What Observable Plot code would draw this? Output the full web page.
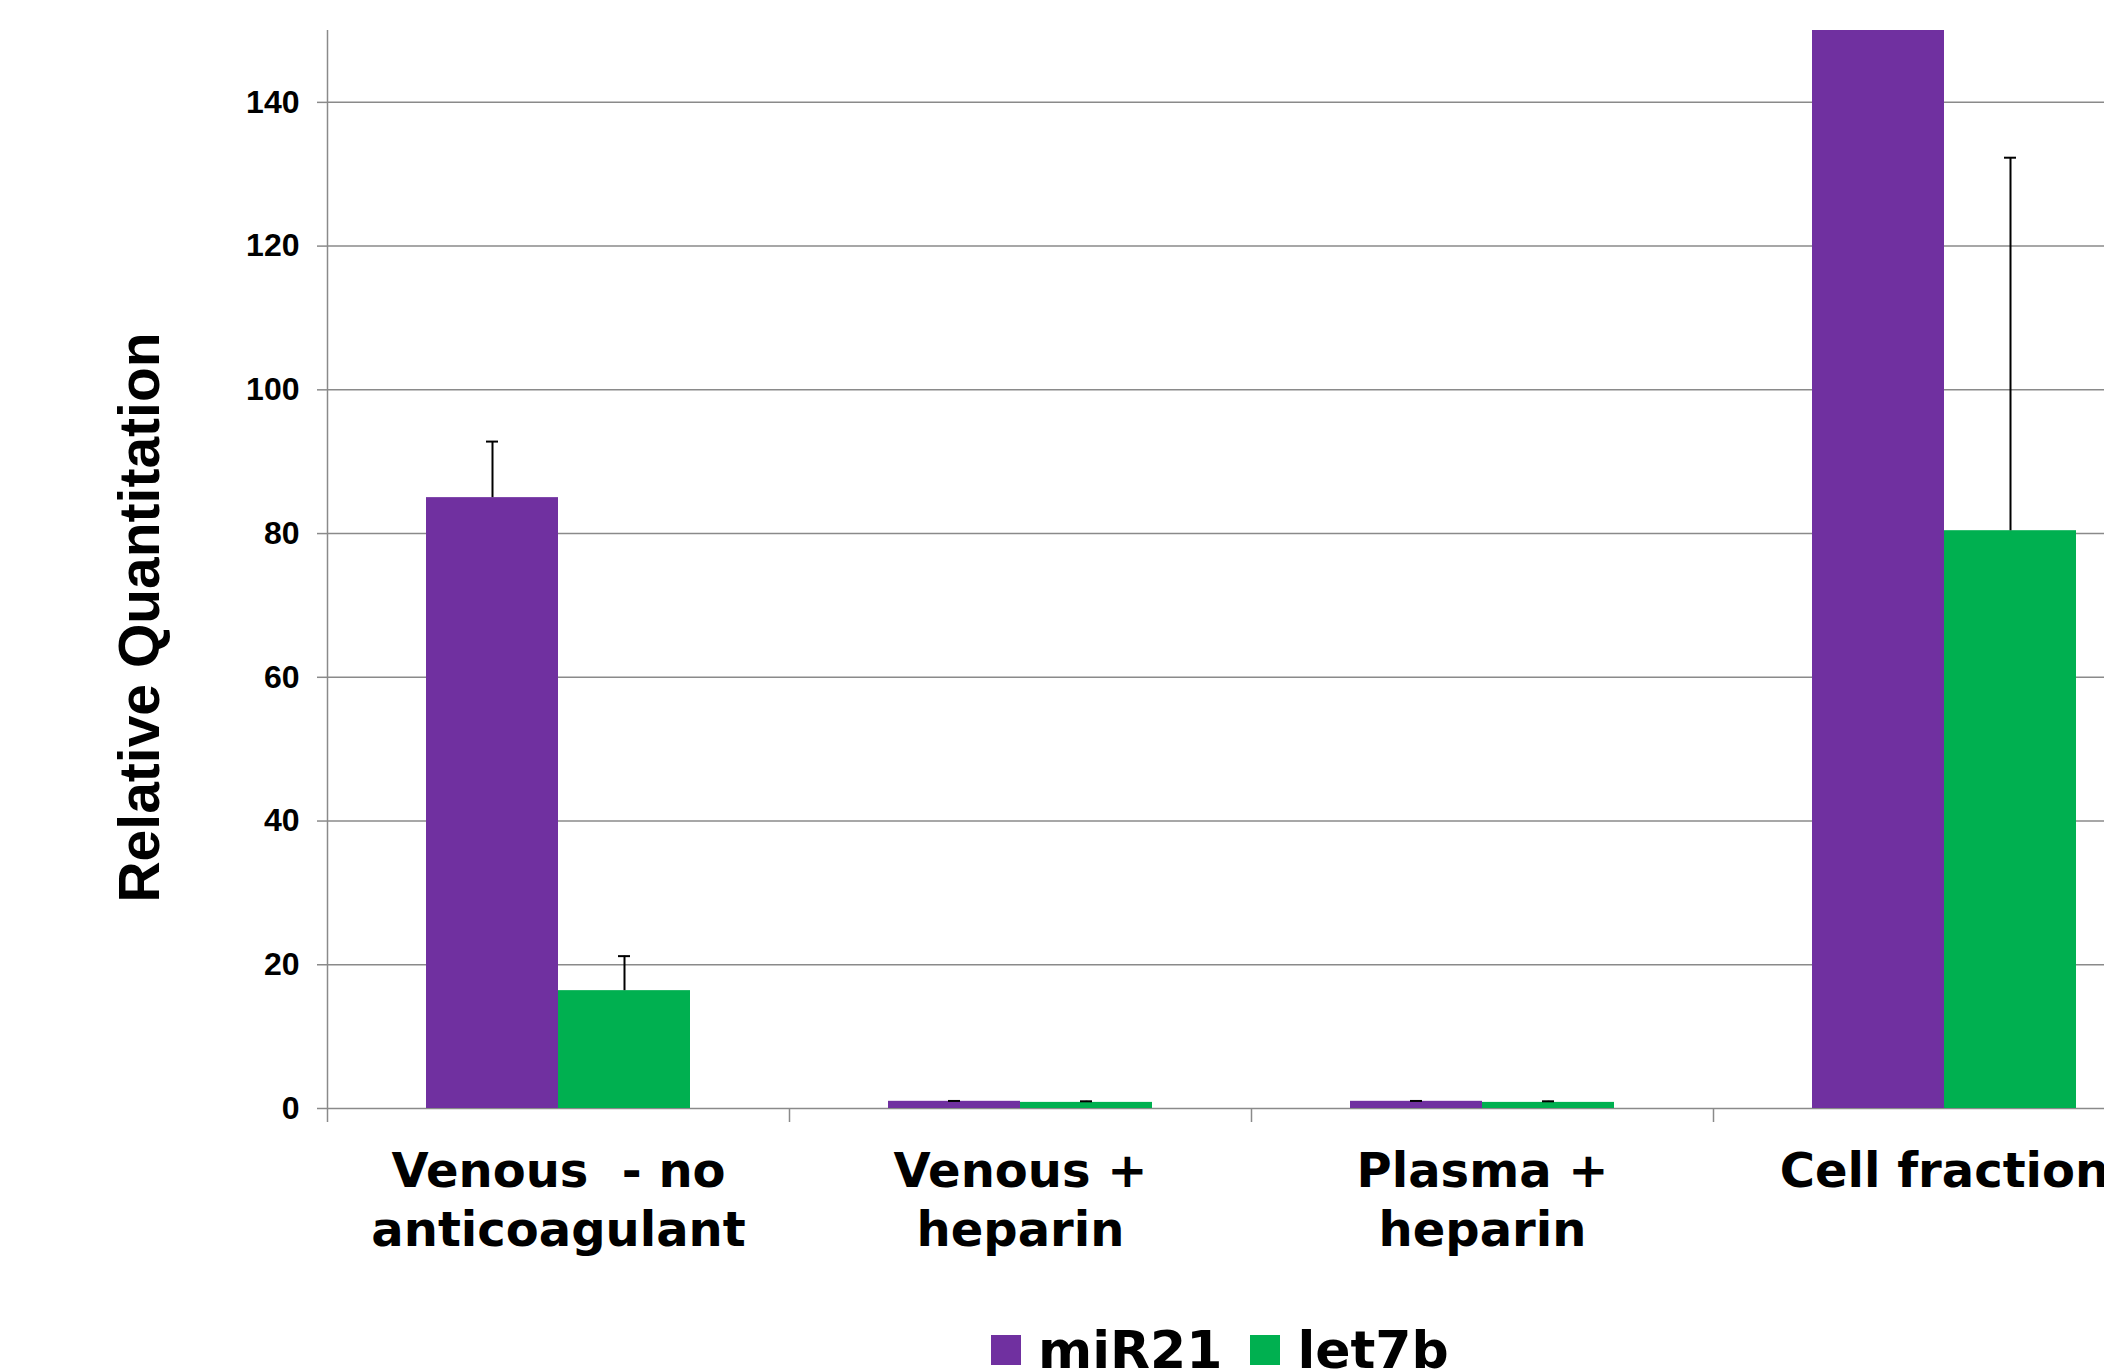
<!DOCTYPE html>
<html>
<head>
<meta charset="utf-8">
<script src="https://cdn.jsdelivr.net/npm/d3@7"></script>
<script src="https://cdn.jsdelivr.net/npm/@observablehq/plot@0.6"></script>
<style>
  html, body { margin: 0; padding: 0; background: #fff; overflow: hidden; width: 2104px; height: 1370px; }
  #legend { display: flex; align-items: center; margin-top: 24px; margin-left: 991px; height: 52px;
            font-family: "DejaVu Sans", Verdana, sans-serif; font-weight: bold; font-size: 52px; line-height: 1; color: #000; }
  #legend .sw { width: 30px; height: 30px; margin-right: 17px; }
  #legend .lab { margin-right: 28px; }
</style>
</head>
<body>
<div id="chart"></div>
<div id="legend"></div>
<script>
// ---- data ----
const categories = ["Venous  - no\nanticoagulant", "Venous +\nheparin", "Plasma +\nheparin", "Cell fraction"];
const seriesNames = ["miR21", "let7b"];
const miR21 = [85.0, 1.0, 1.0, 170];
const miR21Err = [7.8, 0.05, 0.05, 10];
const let7b = [16.4, 0.85, 0.85, 80.4];
const let7bErr = [4.8, 0.15, 0.15, 51.9];
const yTicks = [0, 20, 40, 60, 80, 100, 120, 140];
const colors = ["#7030A0", "#00B050"];

// ---- build table ----
const barW = 1 / 3.5; // Excel gap width 150%
const rows = [];
categories.forEach((c, i) => {
  rows.push({cat: c, i, series: "miR21", value: miR21[i], err: miR21Err[i], x1: i - barW, x2: i});
  rows.push({cat: c, i, series: "let7b", value: let7b[i], err: let7bErr[i], x1: i, x2: i + barW});
});
const boundaries = d3.range(-0.5, categories.length, 1);
const gridColor = "#8a8a8a";
const capHalf = 0.013;

const chart = Plot.plot({
  width: 2104,
  height: 1300,
  marginLeft: 327,
  marginRight: 0,
  marginTop: 30,
  marginBottom: 192,
  style: {fontFamily: '"Liberation Sans", Arial, sans-serif', background: "#fff", color: "#000"},
  x: {type: "linear", domain: [-0.5, categories.length - 0.5], range: [327, 327 + 462 * categories.length], axis: null},
  y: {domain: [0, 150], axis: null},
  color: {domain: seriesNames, range: colors},
  marks: [
    Plot.gridY(yTicks.filter(v => v > 0), {stroke: gridColor, strokeOpacity: 1, strokeWidth: 1.5}),
    Plot.ruleY([0], {stroke: gridColor, strokeWidth: 1.5}),
    Plot.ruleX([-0.5], {y1: 0, y2: 150, stroke: gridColor, strokeWidth: 1.5}),
    Plot.axisX({ticks: boundaries, tickSize: 14, tickFormat: () => "", stroke: gridColor, strokeWidth: 1.5}),
    Plot.rect(rows, {x1: "x1", x2: "x2", y1: 0, y2: "value", fill: "series", clip: true}),
    Plot.ruleX(rows, {x: d => (d.x1 + d.x2) / 2, y1: "value", y2: d => d.value + d.err, stroke: "#000", strokeWidth: 2, clip: true}),
    Plot.ruleY(rows, {y: d => d.value + d.err, x1: d => (d.x1 + d.x2) / 2 - capHalf, x2: d => (d.x1 + d.x2) / 2 + capHalf, stroke: "#000", strokeWidth: 2, clip: true}),
    Plot.axisY({ticks: yTicks, tickSize: 10, tickPadding: 18, label: null, stroke: gridColor, strokeWidth: 1.5, fill: "#000",
                fontSize: 32, fontWeight: "bold", fontFamily: '"Liberation Sans", Arial, sans-serif'}),
    Plot.text(categories, {x: (d, i) => i, y: () => 0, dy: 37, lineAnchor: "top", textAnchor: "middle", lineHeight: 1.23,
                           fontSize: 48, fontWeight: "bold", fill: "#000", fontFamily: '"DejaVu Sans", Verdana, sans-serif'}),
    Plot.text(["Relative Quantitation"], {frameAnchor: "left", rotate: -90, dx: -187, dy: 48, textAnchor: "middle", lineAnchor: "middle",
                           fontSize: 57, fontWeight: "bold", fill: "#000", fontFamily: '"Liberation Sans", Arial, sans-serif'})
  ]
});
document.getElementById("chart").appendChild(chart);

// ---- legend ----
const legend = document.getElementById("legend");
seriesNames.forEach((s, k) => {
  const sw = document.createElement("div");
  sw.className = "sw";
  sw.style.background = colors[k];
  const lab = document.createElement("span");
  lab.className = "lab";
  lab.textContent = s;
  legend.appendChild(sw);
  legend.appendChild(lab);
});
</script>
</body>
</html>
